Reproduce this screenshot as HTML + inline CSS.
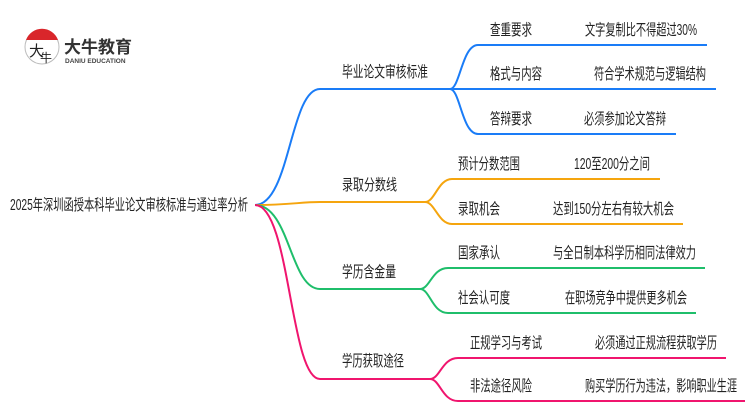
<!DOCTYPE html>
<html><head><meta charset="utf-8"><style>
html,body{margin:0;padding:0;background:#fff;width:750px;height:410px;overflow:hidden}
svg text{font-family:"Liberation Sans","Noto Sans CJK SC",sans-serif;fill:#222}
</style></head><body>
<svg width="750" height="410" viewBox="0 0 750 410" xmlns="http://www.w3.org/2000/svg">
<g>
<circle cx="42" cy="47" r="17" fill="#fff" stroke="#bbb" stroke-width="1"/>
<path d="M26 40 A17 17 0 0 1 58 40 Z" fill="#d9262b"/>
<text x="29" y="56" font-size="15" style="fill:#222">大</text>
<text x="40" y="62" font-size="12" style="fill:#222">牛</text>
<text x="64" y="53" font-size="17" font-weight="bold" style="fill:#333">大牛教育</text>
<text x="65" y="63" font-size="6.5" font-weight="bold" style="fill:#444">DANIU EDUCATION</text>
</g>
<g fill="none" stroke-width="2">
<path d="M255 205 C290 205,290 89,320 89 L450 89" stroke="#1a7cf7"/>
<path d="M450 89 C460 89,462 45,478 45 L707 45 M450 89 L716 89 M450 89 C460 89,462 134,478 134 L676 134" stroke="#1a7cf7"/>
<path d="M255 205 C290 205,300 202,320 202 L425 202" stroke="#f5a50e"/>
<path d="M425 202 C435 202,438 179,452 179 L660 179 M425 202 C435 202,438 224,452 224 L683 224" stroke="#f5a50e"/>
<path d="M255 205 C290 205,290 289,320 289 L420 289" stroke="#1fbe6b"/>
<path d="M420 289 C430 289,432 268,448 268 L705 268 M420 289 C430 289,432 313,448 313 L696 313" stroke="#1fbe6b"/>
<path d="M255 205 C290 205,290 379,320 379 L430 379" stroke="#f0156e"/>
<path d="M430 379 C440 379,442 358,458 358 L726 358 M430 379 C440 379,442 401,458 401 L745 401" stroke="#f0156e"/>
</g>
<g font-size="15.5">
<text x="10" y="210" textLength="238" lengthAdjust="spacingAndGlyphs">2025年深圳函授本科毕业论文审核标准与通过率分析</text>
<text x="342" y="77" textLength="86" lengthAdjust="spacingAndGlyphs">毕业论文审核标准</text>
<text x="342" y="190" textLength="55" lengthAdjust="spacingAndGlyphs">录取分数线</text>
<text x="342" y="277" textLength="54" lengthAdjust="spacingAndGlyphs">学历含金量</text>
<text x="342" y="366" textLength="62" lengthAdjust="spacingAndGlyphs">学历获取途径</text>
<text x="490" y="35" textLength="42" lengthAdjust="spacingAndGlyphs">查重要求</text>
<text x="585" y="35" textLength="112" lengthAdjust="spacingAndGlyphs">文字复制比不得超过30%</text>
<text x="490" y="79" textLength="52" lengthAdjust="spacingAndGlyphs">格式与内容</text>
<text x="594" y="79" textLength="112" lengthAdjust="spacingAndGlyphs">符合学术规范与逻辑结构</text>
<text x="490" y="124" textLength="42" lengthAdjust="spacingAndGlyphs">答辩要求</text>
<text x="584" y="124" textLength="82" lengthAdjust="spacingAndGlyphs">必须参加论文答辩</text>
<text x="458" y="169" textLength="62" lengthAdjust="spacingAndGlyphs">预计分数范围</text>
<text x="574" y="169" textLength="76" lengthAdjust="spacingAndGlyphs">120至200分之间</text>
<text x="458" y="214" textLength="42" lengthAdjust="spacingAndGlyphs">录取机会</text>
<text x="553" y="214" textLength="121" lengthAdjust="spacingAndGlyphs">达到150分左右有较大机会</text>
<text x="458" y="258" textLength="42" lengthAdjust="spacingAndGlyphs">国家承认</text>
<text x="553" y="258" textLength="143" lengthAdjust="spacingAndGlyphs">与全日制本科学历相同法律效力</text>
<text x="458" y="303" textLength="52" lengthAdjust="spacingAndGlyphs">社会认可度</text>
<text x="565" y="303" textLength="122" lengthAdjust="spacingAndGlyphs">在职场竞争中提供更多机会</text>
<text x="470" y="348" textLength="72" lengthAdjust="spacingAndGlyphs">正规学习与考试</text>
<text x="595" y="348" textLength="122" lengthAdjust="spacingAndGlyphs">必须通过正规流程获取学历</text>
<text x="470" y="391" textLength="62" lengthAdjust="spacingAndGlyphs">非法途径风险</text>
<text x="585" y="391" textLength="152" lengthAdjust="spacingAndGlyphs">购买学历行为违法，影响职业生涯</text>
</g>
</svg>
</body></html>
